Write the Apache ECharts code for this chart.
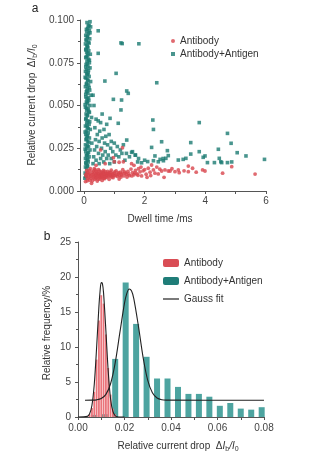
<!DOCTYPE html>
<html>
<head>
<meta charset="utf-8">
<script src="https://cdn.jsdelivr.net/npm/echarts@6/dist/echarts.min.js"></script>
<style>html,body{margin:0;padding:0;background:#fff}#c{width:310px;height:456px}</style>
</head>
<body>
<div id="c"></div>
<script>
// ---------- Panel a: scatter (dwell time /ms, relative current drop) ----------
const antigenScatter = [
[0.20,0.099],[0.17,0.097],[0.22,0.096],[0.12,0.095],[0.18,0.094],[0.09,0.093],[0.15,0.092],[0.06,0.091],[0.11,0.090],[0.19,0.089],[0.08,0.088],[0.14,0.087],[0.05,0.086],[0.10,0.085],[0.13,0.084],[0.07,0.083],[0.16,0.082],[0.09,0.081],[0.21,0.080],[0.12,0.079],[0.06,0.078],[0.15,0.077],[0.10,0.076],[0.18,0.075],[0.07,0.074],[0.13,0.073],[0.20,0.072],[0.09,0.071],[0.05,0.070],[0.14,0.069],[0.11,0.068],[0.17,0.067],[0.07,0.066],[0.12,0.065],[0.22,0.064],[0.09,0.063],[0.15,0.062],[0.05,0.061],[0.11,0.060],[0.19,0.059],[0.08,0.058],[0.13,0.057],[0.24,0.056],[0.06,0.055],[0.10,0.054],[0.16,0.053],[0.08,0.052],[0.12,0.051],[0.20,0.050],[0.05,0.049],[0.14,0.048],[0.09,0.047],[0.18,0.046],[0.07,0.045],[0.11,0.044],[0.25,0.043],[0.06,0.042],[0.13,0.041],[0.09,0.040],[0.17,0.039],[0.05,0.038],[0.11,0.037],[0.21,0.036],[0.08,0.035],[0.14,0.034],[0.06,0.033],[0.10,0.032],[0.18,0.031],[0.07,0.030],[0.12,0.029],[0.26,0.028],[0.05,0.027],[0.15,0.026],[0.09,0.025],[0.20,0.024],[0.06,0.023],[0.12,0.022],[0.08,0.021],[0.17,0.020],[0.05,0.019],[0.10,0.018],[0.14,0.017],[0.07,0.016],[0.11,0.015],[0.05,0.014],[0.09,0.013],
[0.10,0.0985],[0.14,0.0965],[0.08,0.0945],[0.20,0.0925],[0.12,0.0905],[0.07,0.0885],[0.17,0.0865],[0.11,0.0845],[0.06,0.0825],[0.13,0.0805],[0.08,0.0785],[0.18,0.0765],[0.11,0.0745],[0.06,0.0725],[0.15,0.0705],[0.09,0.0685],[0.04,0.0665],[0.13,0.0645],[0.08,0.0625],[0.17,0.0605],[0.10,0.0585],[0.06,0.0565],[0.15,0.0545],[0.11,0.0525],[0.04,0.0505],[0.09,0.0485],[0.16,0.0465],[0.12,0.0445],[0.07,0.0425],[0.19,0.0405],[0.10,0.0385],[0.14,0.0365],[0.04,0.0345],[0.12,0.0325],[0.08,0.0305],[0.16,0.0285],[0.11,0.0265],[0.04,0.0245],[0.15,0.0225],[0.10,0.0205],[0.13,0.0185],[0.06,0.0165],[0.12,0.0145],[0.04,0.0105],[0.06,0.0085],[0.03,0.0075],
[0.30,0.056],[0.33,0.050],[0.40,0.042],[0.47,0.041],[0.55,0.040],[0.36,0.037],[0.52,0.035],[0.66,0.036],[0.44,0.033],[0.72,0.032],[0.60,0.031],[0.83,0.033],[0.38,0.030],[0.50,0.029],[0.90,0.029],[0.68,0.028],[0.78,0.027],[1.00,0.028],[0.42,0.026],[0.58,0.025],[0.88,0.025],[1.10,0.026],[0.35,0.024],[0.70,0.023],[0.95,0.023],[1.20,0.024],[1.30,0.027],[0.48,0.022],[0.62,0.021],[0.80,0.021],[1.05,0.021],[1.25,0.022],[0.32,0.020],[0.55,0.019],[0.75,0.019],[0.90,0.019],[1.15,0.020],[1.40,0.022],[0.40,0.018],[0.65,0.017],[1.00,0.017],[1.35,0.018],[0.30,0.016],[0.50,0.016],[0.85,0.016],[1.50,0.020],[1.60,0.023],[1.70,0.021],[0.60,0.045],[0.75,0.039],[0.86,0.0425],[1.13,0.0396],[0.97,0.0536],[1.24,0.0532],[1.22,0.0474],[1.41,0.0298],
[0.47,0.0937],[1.22,0.0866],[1.26,0.0862],[1.81,0.0861],[0.47,0.0805],[1.06,0.0688],[0.69,0.0643],[2.40,0.0633],[1.41,0.0585],[1.46,0.0571],[2.27,0.0415],[2.29,0.036],[3.80,0.040],[4.73,0.0337],[4.85,0.0279],[3.52,0.0283],[2.56,0.0288],[2.23,0.0255],[2.75,0.0236],[4.43,0.0244],[5.05,0.0224],[5.34,0.0205],[5.95,0.0185],[2.34,0.0205],[2.51,0.0185],[2.62,0.0177],[2.70,0.0191],[2.45,0.0171],[2.29,0.0177],[3.11,0.0181],[3.27,0.0185],[3.36,0.0191],[3.52,0.0216],[3.80,0.023],[3.93,0.0197],[3.99,0.0205],[4.07,0.0166],[4.30,0.0166],[4.46,0.0191],[4.51,0.0171],[4.54,0.0166],[4.73,0.0166],[4.87,0.017],[1.80,0.019],[1.77,0.017],[1.69,0.021],[1.57,0.0226],[2.00,0.018],[2.10,0.0172],[1.90,0.0165],[2.78,0.0207],[2.61,0.019]
];
const antibodyScatter = [
[0.05,0.0055],[0.08,0.0085],[0.10,0.0105],[0.12,0.0072],[0.15,0.0095],[0.18,0.0120],[0.20,0.0063],[0.22,0.0088],[0.25,0.0045],[0.27,0.0110],[0.30,0.0078],[0.32,0.0098],[0.34,0.0130],[0.36,0.0068],[0.38,0.0090],[0.40,0.0115],[0.42,0.0080],[0.44,0.0058],[0.46,0.0102],[0.48,0.0125],[0.50,0.0085],[0.52,0.0070],[0.54,0.0095],[0.56,0.0112],[0.58,0.0078],[0.60,0.0062],[0.62,0.0100],[0.64,0.0120],[0.66,0.0088],[0.68,0.0072],[0.70,0.0105],[0.72,0.0093],[0.75,0.0080],[0.78,0.0115],[0.80,0.0098],[0.83,0.0068],[0.85,0.0108],[0.88,0.0088],[0.90,0.0122],[0.93,0.0095],[0.96,0.0078],[1.00,0.0105],[1.03,0.0090],[1.06,0.0118],[1.10,0.0085],[1.13,0.0100],[1.16,0.0070],[1.20,0.0110],[1.24,0.0095],[1.28,0.0125],[1.32,0.0088],[1.36,0.0105],[1.40,0.0098],[1.45,0.0115],[1.50,0.0090],[1.55,0.0128],[1.60,0.0108],[1.65,0.0095],[1.70,0.0120],[1.75,0.0100],[1.80,0.0130],[1.85,0.0112],[1.90,0.0088],[1.95,0.0118],[2.00,0.0125],[2.05,0.0098],[2.12,0.0133],[2.18,0.0110],
[0.06,0.0095],[0.09,0.0120],[0.11,0.0060],[0.13,0.0110],[0.16,0.0080],[0.19,0.0100],[0.21,0.0130],[0.23,0.0075],[0.26,0.0095],[0.28,0.0060],[0.31,0.0118],[0.33,0.0085],[0.35,0.0105],[0.37,0.0125],[0.39,0.0075],[0.41,0.0098],[0.43,0.0110],[0.45,0.0088],[0.47,0.0070],[0.49,0.0100],[0.51,0.0118],[0.53,0.0090],[0.55,0.0080],[0.57,0.0105],[0.59,0.0095],[0.61,0.0085],[0.63,0.0110],[0.65,0.0075],[0.67,0.0098],[0.69,0.0115],[0.71,0.0082],[0.74,0.0100],[0.77,0.0090],[0.79,0.0105],[0.82,0.0085],[0.86,0.0095],[0.89,0.0110],[0.92,0.0082],[0.95,0.0100],[0.98,0.0090],[1.02,0.0112],[1.08,0.0095],[1.14,0.0108],[1.18,0.0090],[1.22,0.0082],[1.26,0.0105],[1.34,0.0112],[1.42,0.0082],[1.48,0.0100],[1.58,0.0088],[1.68,0.0105],[1.78,0.0092],
[0.55,0.024],[1.27,0.0253],[0.97,0.0195],[1.16,0.0168],[1.00,0.0171],[1.30,0.0171],[1.57,0.0160],[1.65,0.0150],[0.70,0.0160],[0.40,0.0150],
[2.23,0.0152],[2.29,0.0123],[2.34,0.0104],[2.56,0.0117],[2.67,0.0123],[2.78,0.0117],[2.84,0.0117],[2.64,0.0080],[2.45,0.0100],[3.11,0.0123],[3.14,0.0107],[3.00,0.0113],[3.44,0.0146],[3.58,0.0133],[3.44,0.0113],[3.91,0.0123],[3.99,0.0117],[4.57,0.0104],[4.87,0.0142],[5.64,0.0099],[2.50,0.0128],[2.90,0.0130],[3.30,0.0118],[3.70,0.0110],[2.20,0.0090],[2.40,0.0140],[1.88,0.0140],[2.08,0.0080]
];
const xTicksA = [0, 2, 4, 6];
const xMinorTicksA = [0, 1, 2, 3, 4, 5, 6];

// ---------- Panel b: histograms + Gauss fits ----------
const tealBinX    = [0.007, 0.0115, 0.016, 0.0205, 0.025, 0.0295, 0.034, 0.0385, 0.043, 0.0475, 0.052, 0.0565, 0.061, 0.0655, 0.070, 0.0745, 0.079];
const tealFreq    = [0.3,   0.4,    8.3,   19.2,   13.3,  8.6,    5.5,   5.5,    4.3,   3.3,    3.3,   2.9,    1.6,   2.0,    1.2,   1.05,   1.4];
const redBinX     = [0.005, 0.006, 0.007, 0.008, 0.009, 0.010, 0.011, 0.012, 0.013, 0.014, 0.015, 0.016];
const redFreq     = [0.4,   1.3,   3.6,   8.2,   13.8,  17.4,  16.2,  11.8,  7.0,   3.2,   1.2,   0.4];
const gaussRedX   = [0, 0.004, 0.005, 0.006, 0.007, 0.008, 0.009, 0.0095, 0.010, 0.0105, 0.011, 0.012, 0.013, 0.014, 0.015, 0.016, 0.017, 0.018, 0.020];
const gaussRedY   = [0, 0.09,  0.46,  1.68,  4.67,  9.88,  15.8,  18.0,   19.2,  19.07,  17.7,  12.3,  6.5,   2.6,   0.79,  0.18,  0.03,  0,     0];
const gaussTealX  = [0.003, 0.006, 0.008, 0.010, 0.012, 0.014, 0.016, 0.018, 0.020, 0.021, 0.022, 0.023, 0.024, 0.026, 0.028, 0.030, 0.032, 0.034, 0.036, 0.038, 0.080];
const gaussTealY  = [2.4,   2.41,  2.45,  2.63,  3.23,  4.75,  7.74,  12.05, 16.26, 17.66, 18.28, 18.02, 16.9,  12.95, 8.53,  5.22,  3.45,  2.71,  2.47,  2.41,  2.4];

const FONT = "'Liberation Sans', Arial, sans-serif";
const AX = '#555', LBL = '#444';
const zip = (xs, ys) => xs.map((x, i) => [x, ys[i]]);

const chart = echarts.init(document.getElementById('c'), null, {renderer: 'canvas'});

const axisBase = {
  axisLine: {show: true, onZero: false, lineStyle: {color: AX, width: 1}},
  axisTick: {show: true, length: 3, inside: false, lineStyle: {color: AX}},
  minorTick: {show: true, splitNumber: 2, length: 2, lineStyle: {color: AX}},
  splitLine: {show: false},
  minorSplitLine: {show: false},
  axisLabel: {fontSize: 10, color: LBL, fontFamily: FONT}
};

const richTitle = {
  n: {fontSize: 10, fontFamily: FONT, fill: '#333', lineHeight: 14},
  i: {fontSize: 10, fontFamily: FONT, fontStyle: 'italic', fill: '#333', lineHeight: 14},
  s: {fontSize: 7, fontFamily: FONT, fill: '#333', verticalAlign: 'bottom', lineHeight: 9}
};
const dropTitle = '{n|Relative current drop  Δ}{i|I}{s|b}{i|/I}{s|0}';

const option = {
  animation: false,
  backgroundColor: '#fff',
  textStyle: {fontFamily: FONT},
  grid: [
    {left: 80, top: 20, width: 186, height: 171, containLabel: false},
    {left: 78, top: 242, width: 186, height: 175, containLabel: false}
  ],
  xAxis: [
    Object.assign({}, axisBase, {
      gridIndex: 0, type: 'value', min: -0.13, max: 6,
      axisTick: {show: true, length: 3, customValues: xMinorTicksA, lineStyle: {color: AX}},
      minorTick: {show: false},
      axisLabel: {fontSize: 10, color: LBL, fontFamily: FONT, margin: 5, customValues: xTicksA}
    }),
    Object.assign({}, axisBase, {
      gridIndex: 1, type: 'value', min: 0, max: 0.08, interval: 0.02,
      minorTick: {show: true, splitNumber: 2, length: 3, lineStyle: {color: AX}},
      axisLabel: {fontSize: 10, color: LBL, fontFamily: FONT, margin: 6, formatter: v => v.toFixed(2)}
    }),
    {gridIndex: 1, type: 'value', min: 0, max: 0.08, show: false}
  ],
  yAxis: [
    Object.assign({}, axisBase, {
      gridIndex: 0, type: 'value', min: 0, max: 0.1, interval: 0.025,
      axisLabel: {fontSize: 10, color: LBL, fontFamily: FONT, margin: 6, formatter: v => v.toFixed(3)}
    }),
    Object.assign({}, axisBase, {
      gridIndex: 1, type: 'value', min: 0, max: 25, interval: 5,
      axisLabel: {fontSize: 10, color: LBL, fontFamily: FONT, margin: 7}
    })
  ],
  legend: [
    {
      data: ['Antibody', 'Antibody+Antigen'],
      orient: 'vertical', left: 166, top: 30,
      itemWidth: 4, itemHeight: 4, itemGap: 1, itemTextGap: 13,
      textStyle: {fontSize: 10, color: '#333', fontFamily: FONT, lineHeight: 12}
    },
    {
      data: [
        {name: 'Antibody ', itemStyle: {color: '#d94d55'}},
        {name: 'Antibody+Antigen ', itemStyle: {color: '#1f7d78'}},
        {name: 'Gauss fit', icon: 'path://M0,0 L16,0 L16,1.2 L0,1.2 Z', itemStyle: {color: '#222'}}
      ],
      orient: 'vertical', left: 158, top: 252,
      itemWidth: 16, itemHeight: 8, itemGap: 6, itemTextGap: 9,
      textStyle: {fontSize: 10, color: '#333', fontFamily: FONT, lineHeight: 12}
    }
  ],
  graphic: [
    {type: 'text', x: 35, y: 9, style: {text: 'a', fontSize: 12, fontFamily: FONT, fill: '#222', align: 'center', verticalAlign: 'middle'}},
    {type: 'text', x: 47, y: 237, style: {text: 'b', fontSize: 12, fontFamily: FONT, fill: '#222', align: 'center', verticalAlign: 'middle'}},
    {type: 'text', x: 160, y: 219, style: {text: 'Dwell time /ms', fontSize: 10, fontFamily: FONT, fill: '#333', align: 'center', verticalAlign: 'middle'}},
    {type: 'text', x: 178, y: 446, style: {text: dropTitle, rich: richTitle, align: 'center', verticalAlign: 'middle'}},
    {type: 'text', x: 32, y: 105, rotation: Math.PI / 2, style: {text: dropTitle, rich: richTitle, align: 'center', verticalAlign: 'middle'}},
    {type: 'text', x: 47, y: 333, rotation: Math.PI / 2, style: {text: 'Relative frequency/%', fontSize: 10, fontFamily: FONT, fill: '#333', align: 'center', verticalAlign: 'middle'}}
  ],
  series: [
    {name: 'Antibody+Antigen', type: 'scatter', xAxisIndex: 0, yAxisIndex: 0, symbol: 'rect', symbolSize: 3.6,
     itemStyle: {color: '#1b7a72'}, data: antigenScatter},
    {name: 'Antibody', type: 'scatter', xAxisIndex: 0, yAxisIndex: 0, symbol: 'circle', symbolSize: 3.8,
     itemStyle: {color: '#d8454c'}, data: antibodyScatter},
    {name: 'Antibody+Antigen ', type: 'bar', xAxisIndex: 1, yAxisIndex: 1, barWidth: 6,
     itemStyle: {color: '#4da4a0'}, data: zip(tealBinX, tealFreq)},
    {name: 'Antibody ', type: 'bar', xAxisIndex: 2, yAxisIndex: 1, barWidth: 1.8,
     itemStyle: {color: '#ea737a'}, data: zip(redBinX, redFreq)},
    {name: 'Gauss fit', type: 'line', xAxisIndex: 1, yAxisIndex: 1, symbol: 'none', smooth: 0.3,
     lineStyle: {color: '#222', width: 1.1}, itemStyle: {color: '#222'}, data: zip(gaussRedX, gaussRedY), z: 5},
    {name: 'Gauss fit', type: 'line', xAxisIndex: 1, yAxisIndex: 1, symbol: 'none', smooth: 0.3,
     lineStyle: {color: '#222', width: 1.1}, itemStyle: {color: '#222'}, data: zip(gaussTealX, gaussTealY), z: 5}
  ]
};
chart.setOption(option);
</script>
</body>
</html>
